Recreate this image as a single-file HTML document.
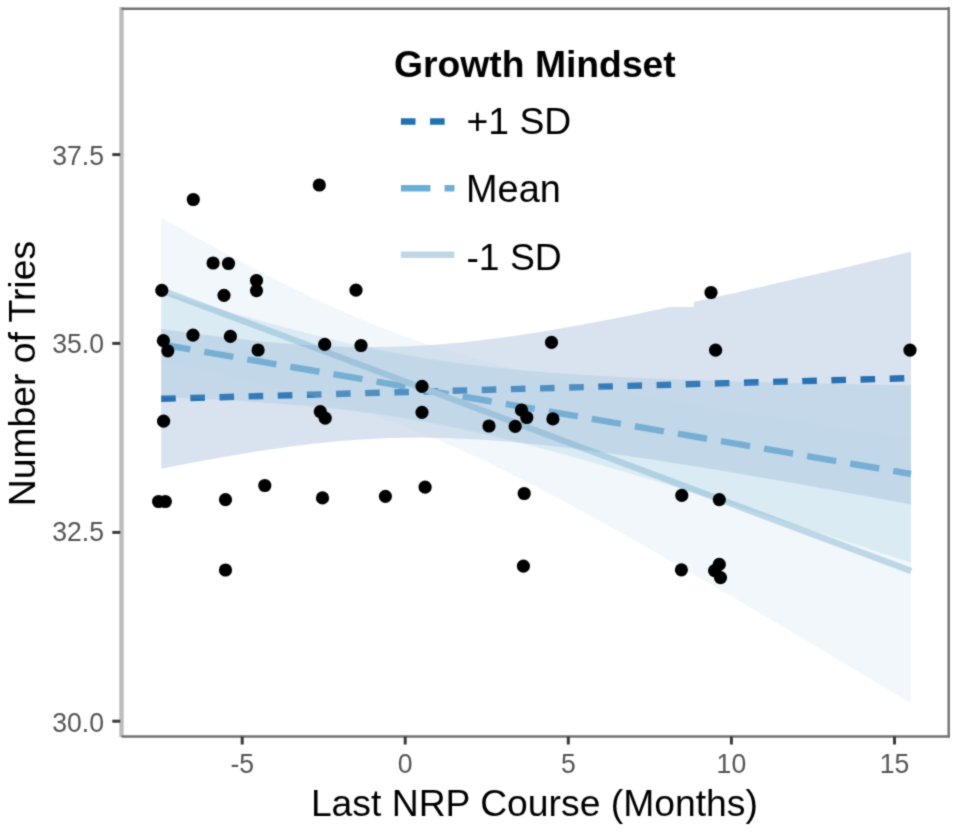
<!DOCTYPE html>
<html><head><meta charset="utf-8"><style>
html,body{margin:0;padding:0;background:#fff;}
svg{display:block;}
#wrap{width:957px;height:833px;}
text{font-family:"Liberation Sans",sans-serif;}
</style></head><body><div id="wrap">
<svg width="957" height="833" viewBox="0 0 957 833">
<defs><filter id="soft" x="0" y="0" width="957" height="833" filterUnits="userSpaceOnUse" color-interpolation-filters="sRGB"><feConvolveMatrix order="3" kernelMatrix="1 4 1 4 16 4 1 4 1" divisor="36" edgeMode="duplicate"/></filter></defs>
<g filter="url(#soft)">
<rect width="957" height="833" fill="#fff"/>
<line x1="161.2" y1="398.8" x2="910.8" y2="378.1" stroke="#2171B5" stroke-width="6.4" stroke-dasharray="14.6 14.55"/>
<line x1="161.2" y1="344.4" x2="911.0" y2="474.0" stroke="#6BAED6" stroke-width="6.4" stroke-dasharray="29.5 14.2"/>
<line x1="161.1" y1="290.2" x2="911.1" y2="570.9" stroke="#BDD7E7" stroke-width="6.4"/>
<path d="M161.20,328.85 L168.77,329.94 L176.35,331.01 L183.92,332.07 L191.49,333.10 L199.07,334.10 L206.64,335.09 L214.22,336.05 L221.79,336.98 L229.36,337.88 L236.94,338.75 L244.51,339.59 L252.08,340.40 L259.66,341.17 L267.23,341.91 L274.81,342.60 L282.38,343.26 L289.95,343.87 L297.53,344.43 L305.10,344.95 L312.67,345.41 L320.25,345.83 L327.82,346.19 L335.40,346.49 L342.97,346.74 L350.54,346.93 L358.12,347.06 L365.69,347.12 L373.26,347.12 L380.84,347.06 L388.41,346.93 L395.99,346.74 L403.56,346.48 L411.13,346.15 L418.71,345.76 L426.28,345.31 L433.85,344.80 L441.43,344.22 L449.00,343.58 L456.58,342.89 L464.15,342.13 L471.72,341.32 L479.30,340.46 L486.87,339.55 L494.44,338.59 L502.02,337.59 L509.59,336.53 L517.17,335.44 L524.74,334.31 L532.31,333.13 L539.89,331.92 L547.46,330.68 L555.03,329.40 L562.61,328.10 L570.18,326.76 L577.76,325.40 L585.33,324.01 L592.90,322.59 L600.48,321.16 L608.05,319.70 L615.62,318.21 L623.20,316.71 L630.77,315.20 L638.35,313.66 L645.92,312.11 L653.49,310.54 L661.07,308.95 L668.64,307.35 L670.00,307.07 L693.70,307.07 L693.71,301.97 L698.94,300.84 L706.51,299.18 L714.08,297.51 L721.66,295.83 L729.23,294.15 L736.80,292.45 L744.38,290.75 L751.95,289.03 L759.53,287.31 L767.10,285.59 L774.67,283.85 L782.25,282.11 L789.82,280.36 L797.39,278.61 L804.97,276.85 L812.54,275.09 L820.12,273.32 L827.69,271.55 L835.26,269.77 L842.84,267.98 L850.41,266.19 L857.98,264.40 L865.56,262.61 L873.13,260.81 L880.71,259.00 L888.28,257.19 L895.85,255.38 L903.43,253.57 L911.00,251.75 L911.00,504.44 L903.43,503.04 L895.85,501.64 L888.28,500.25 L880.71,498.86 L873.13,497.48 L865.56,496.09 L857.98,494.72 L850.41,493.34 L842.84,491.97 L835.26,490.61 L827.69,489.24 L820.12,487.89 L812.54,486.54 L804.97,485.19 L797.39,483.85 L789.82,482.52 L782.25,481.19 L774.67,479.87 L767.10,478.55 L759.53,477.24 L751.95,475.94 L744.38,474.65 L736.80,473.36 L729.23,472.08 L721.66,470.81 L714.08,469.55 L706.51,468.30 L698.94,467.06 L693.71,466.22 L693.70,466.21 L670.00,462.43 L668.64,462.22 L661.07,461.04 L653.49,459.87 L645.92,458.72 L638.35,457.59 L630.77,456.47 L623.20,455.37 L615.62,454.29 L608.05,453.23 L600.48,452.18 L592.90,451.16 L585.33,450.17 L577.76,449.20 L570.18,448.25 L562.61,447.33 L555.03,446.44 L547.46,445.59 L539.89,444.76 L532.31,443.97 L524.74,443.22 L517.17,442.50 L509.59,441.82 L502.02,441.19 L494.44,440.60 L486.87,440.06 L479.30,439.57 L471.72,439.13 L464.15,438.74 L456.58,438.40 L449.00,438.12 L441.43,437.90 L433.85,437.75 L426.28,437.65 L418.71,437.61 L411.13,437.64 L403.56,437.74 L395.99,437.90 L388.41,438.12 L380.84,438.41 L373.26,438.77 L365.69,439.19 L358.12,439.67 L350.54,440.21 L342.97,440.82 L335.40,441.49 L327.82,442.21 L320.25,442.99 L312.67,443.82 L305.10,444.71 L297.53,445.64 L289.95,446.62 L282.38,447.65 L274.81,448.72 L267.23,449.84 L259.66,450.99 L252.08,452.18 L244.51,453.41 L236.94,454.66 L229.36,455.96 L221.79,457.28 L214.22,458.63 L206.64,460.00 L199.07,461.40 L191.49,462.83 L183.92,464.28 L176.35,465.75 L168.77,467.24 L161.20,468.75 Z" fill="#416EAF" fill-opacity="0.2"/>
<path d="M161.20,291.71 L168.77,294.02 L176.35,296.32 L183.92,298.60 L191.49,300.88 L199.07,303.13 L206.64,305.38 L214.22,307.61 L221.79,309.82 L229.36,312.01 L236.94,314.19 L244.51,316.35 L252.08,318.48 L259.66,320.59 L267.23,322.68 L274.81,324.75 L282.38,326.79 L289.95,328.80 L297.53,330.78 L305.10,332.73 L312.67,334.64 L320.25,336.53 L327.82,338.37 L335.40,340.18 L342.97,341.95 L350.54,343.68 L358.12,345.36 L365.69,347.00 L373.26,348.60 L380.84,350.14 L388.41,351.64 L395.99,353.10 L403.56,354.50 L411.13,355.85 L418.71,357.15 L426.28,358.41 L433.85,359.61 L441.43,360.76 L449.00,361.87 L456.58,362.92 L464.15,363.93 L471.72,364.90 L479.30,365.82 L486.87,366.70 L494.44,367.54 L502.02,368.34 L509.59,369.10 L517.17,369.83 L524.74,370.52 L532.31,371.18 L539.89,371.81 L547.46,372.41 L555.03,372.98 L562.61,373.53 L570.18,374.05 L577.76,374.55 L585.33,375.03 L592.90,375.48 L600.48,375.92 L608.05,376.34 L615.62,376.74 L623.20,377.13 L630.77,377.50 L638.35,377.85 L645.92,378.20 L653.49,378.52 L661.07,378.84 L668.64,379.15 L676.21,379.44 L683.79,379.73 L691.36,380.00 L698.94,380.27 L706.51,380.53 L714.08,380.77 L721.66,381.02 L729.23,381.25 L736.80,381.48 L744.38,381.70 L751.95,381.91 L759.53,382.12 L767.10,382.32 L774.67,382.52 L782.25,382.71 L789.82,382.90 L797.39,383.08 L804.97,383.26 L812.54,383.44 L820.12,383.61 L827.69,383.77 L835.26,383.94 L842.84,384.10 L850.41,384.25 L857.98,384.40 L865.56,384.55 L873.13,384.70 L880.71,384.84 L888.28,384.98 L895.85,385.12 L903.43,385.26 L911.00,385.39 L911.00,562.61 L903.43,560.12 L895.85,557.64 L888.28,555.16 L880.71,552.68 L873.13,550.21 L865.56,547.74 L857.98,545.27 L850.41,542.80 L842.84,540.34 L835.26,537.88 L827.69,535.43 L820.12,532.97 L812.54,530.53 L804.97,528.08 L797.39,525.64 L789.82,523.21 L782.25,520.78 L774.67,518.35 L767.10,515.93 L759.53,513.51 L751.95,511.11 L744.38,508.70 L736.80,506.30 L729.23,503.91 L721.66,501.53 L714.08,499.15 L706.51,496.78 L698.94,494.42 L691.36,492.07 L683.79,489.73 L676.21,487.39 L668.64,485.07 L661.07,482.76 L653.49,480.46 L645.92,478.17 L638.35,475.89 L630.77,473.63 L623.20,471.38 L615.62,469.15 L608.05,466.93 L600.48,464.73 L592.90,462.55 L585.33,460.39 L577.76,458.25 L570.18,456.13 L562.61,454.03 L555.03,451.96 L547.46,449.92 L539.89,447.90 L532.31,445.91 L524.74,443.95 L517.17,442.03 L509.59,440.13 L502.02,438.28 L494.44,436.46 L486.87,434.68 L479.30,432.94 L471.72,431.24 L464.15,429.59 L456.58,427.99 L449.00,426.42 L441.43,424.91 L433.85,423.45 L426.28,422.03 L418.71,420.67 L411.13,419.35 L403.56,418.08 L395.99,416.87 L388.41,415.70 L380.84,414.58 L373.26,413.51 L365.69,412.49 L358.12,411.51 L350.54,410.58 L342.97,409.69 L335.40,408.84 L327.82,408.03 L320.25,407.26 L312.67,406.52 L305.10,405.82 L297.53,405.15 L289.95,404.51 L282.38,403.91 L274.81,403.33 L267.23,402.77 L259.66,402.24 L252.08,401.74 L244.51,401.25 L236.94,400.79 L229.36,400.35 L221.79,399.93 L214.22,399.52 L206.64,399.13 L199.07,398.76 L191.49,398.40 L183.92,398.05 L176.35,397.72 L168.77,397.40 L161.20,397.09 Z" fill="#6BAED6" fill-opacity="0.19"/>
<path d="M161.20,217.68 L168.77,221.95 L176.35,226.20 L183.92,230.43 L191.49,234.63 L199.07,238.82 L206.64,242.98 L214.22,247.11 L221.79,251.22 L229.36,255.30 L236.94,259.35 L244.51,263.37 L252.08,267.35 L259.66,271.29 L267.23,275.20 L274.81,279.06 L282.38,282.88 L289.95,286.65 L297.53,290.38 L305.10,294.05 L312.67,297.67 L320.25,301.23 L327.82,304.74 L335.40,308.18 L342.97,311.56 L350.54,314.87 L358.12,318.11 L365.69,321.28 L373.26,324.38 L380.84,327.41 L388.41,330.36 L395.99,333.24 L403.56,336.04 L411.13,338.77 L418.71,341.42 L426.28,344.00 L433.85,346.50 L441.43,348.94 L449.00,351.31 L456.58,353.61 L464.15,355.85 L471.72,358.02 L479.30,360.14 L486.87,362.19 L494.44,364.20 L502.02,366.15 L509.59,368.05 L517.17,369.90 L524.74,371.72 L532.31,373.48 L539.89,375.21 L547.46,376.91 L555.03,378.57 L562.61,380.19 L570.18,381.78 L577.76,383.35 L585.33,384.89 L592.90,386.40 L600.48,387.89 L608.05,389.35 L615.62,390.79 L623.20,392.22 L630.77,393.62 L638.35,395.01 L645.92,396.38 L653.49,397.73 L661.07,399.07 L668.64,400.39 L676.21,401.70 L683.79,403.00 L691.36,404.29 L698.94,405.56 L706.51,406.83 L714.08,408.08 L721.66,409.33 L729.23,410.56 L736.80,411.79 L744.38,413.01 L751.95,414.22 L759.53,415.42 L767.10,416.62 L774.67,417.81 L782.25,418.99 L789.82,420.17 L797.39,421.34 L804.97,422.51 L812.54,423.67 L820.12,424.82 L827.69,425.97 L835.26,427.12 L842.84,428.26 L850.41,429.40 L857.98,430.53 L865.56,431.66 L873.13,432.79 L880.71,433.91 L888.28,435.03 L895.85,436.14 L903.43,437.26 L911.00,438.36 L911.00,703.36 L903.43,698.80 L895.85,694.24 L888.28,689.69 L880.71,685.14 L873.13,680.59 L865.56,676.05 L857.98,671.51 L850.41,666.97 L842.84,662.44 L835.26,657.91 L827.69,653.39 L820.12,648.87 L812.54,644.36 L804.97,639.85 L797.39,635.35 L789.82,630.85 L782.25,626.36 L774.67,621.87 L767.10,617.39 L759.53,612.92 L751.95,608.45 L744.38,604.00 L736.80,599.54 L729.23,595.10 L721.66,590.67 L714.08,586.24 L706.51,581.83 L698.94,577.42 L691.36,573.03 L683.79,568.65 L676.21,564.28 L668.64,559.92 L661.07,555.57 L653.49,551.24 L645.92,546.93 L638.35,542.63 L630.77,538.34 L623.20,534.08 L615.62,529.83 L608.05,525.61 L600.48,521.40 L592.90,517.22 L585.33,513.06 L577.76,508.93 L570.18,504.83 L562.61,500.75 L555.03,496.71 L547.46,492.70 L539.89,488.72 L532.31,484.78 L524.74,480.88 L517.17,477.02 L509.59,473.21 L502.02,469.44 L494.44,465.72 L486.87,462.06 L479.30,458.45 L471.72,454.89 L464.15,451.40 L456.58,447.96 L449.00,444.59 L441.43,441.29 L433.85,438.06 L426.28,434.90 L418.71,431.81 L411.13,428.79 L403.56,425.85 L395.99,422.98 L388.41,420.19 L380.84,417.48 L373.26,414.83 L365.69,412.26 L358.12,409.76 L350.54,407.34 L342.97,404.98 L335.40,402.69 L327.82,400.46 L320.25,398.29 L312.67,396.19 L305.10,394.14 L297.53,392.14 L289.95,390.20 L282.38,388.30 L274.81,386.45 L267.23,384.65 L259.66,382.88 L252.08,381.16 L244.51,379.47 L236.94,377.82 L229.36,376.20 L221.79,374.61 L214.22,373.04 L206.64,371.51 L199.07,370.00 L191.49,368.52 L183.92,367.06 L176.35,365.62 L168.77,364.20 L161.20,362.79 Z" fill="#BDD7E7" fill-opacity="0.21"/>
<circle cx="193.3" cy="199.5" r="6.6" fill="#000"/>
<circle cx="319.3" cy="185.0" r="6.6" fill="#000"/>
<circle cx="213.1" cy="263.0" r="6.6" fill="#000"/>
<circle cx="228.5" cy="263.5" r="6.6" fill="#000"/>
<circle cx="161.8" cy="290.3" r="6.6" fill="#000"/>
<circle cx="224.0" cy="295.3" r="6.6" fill="#000"/>
<circle cx="256.5" cy="280.5" r="6.6" fill="#000"/>
<circle cx="256.5" cy="290.6" r="6.6" fill="#000"/>
<circle cx="356.0" cy="290.2" r="6.6" fill="#000"/>
<circle cx="163.4" cy="340.7" r="6.6" fill="#000"/>
<circle cx="167.8" cy="350.8" r="6.6" fill="#000"/>
<circle cx="193.0" cy="335.2" r="6.6" fill="#000"/>
<circle cx="230.4" cy="336.4" r="6.6" fill="#000"/>
<circle cx="258.1" cy="350.0" r="6.6" fill="#000"/>
<circle cx="324.7" cy="344.4" r="6.6" fill="#000"/>
<circle cx="361.0" cy="345.5" r="6.6" fill="#000"/>
<circle cx="422.0" cy="386.3" r="6.6" fill="#000"/>
<circle cx="422.0" cy="412.3" r="6.6" fill="#000"/>
<circle cx="320.3" cy="411.6" r="6.6" fill="#000"/>
<circle cx="325.2" cy="418.2" r="6.6" fill="#000"/>
<circle cx="163.6" cy="421.2" r="6.6" fill="#000"/>
<circle cx="158.6" cy="501.5" r="6.6" fill="#000"/>
<circle cx="165.3" cy="501.5" r="6.6" fill="#000"/>
<circle cx="225.5" cy="499.7" r="6.6" fill="#000"/>
<circle cx="264.8" cy="485.5" r="6.6" fill="#000"/>
<circle cx="322.5" cy="497.9" r="6.6" fill="#000"/>
<circle cx="385.4" cy="496.3" r="6.6" fill="#000"/>
<circle cx="425.1" cy="487.2" r="6.6" fill="#000"/>
<circle cx="225.5" cy="570.0" r="6.6" fill="#000"/>
<circle cx="489.0" cy="426.0" r="6.6" fill="#000"/>
<circle cx="515.2" cy="426.4" r="6.6" fill="#000"/>
<circle cx="521.5" cy="410.0" r="6.6" fill="#000"/>
<circle cx="526.8" cy="417.5" r="6.6" fill="#000"/>
<circle cx="552.9" cy="418.9" r="6.6" fill="#000"/>
<circle cx="551.5" cy="342.4" r="6.6" fill="#000"/>
<circle cx="524.2" cy="493.5" r="6.6" fill="#000"/>
<circle cx="523.4" cy="566.1" r="6.6" fill="#000"/>
<circle cx="711.0" cy="292.5" r="6.6" fill="#000"/>
<circle cx="715.6" cy="350.2" r="6.6" fill="#000"/>
<circle cx="910.0" cy="350.1" r="6.6" fill="#000"/>
<circle cx="681.8" cy="495.4" r="6.6" fill="#000"/>
<circle cx="719.3" cy="499.6" r="6.6" fill="#000"/>
<circle cx="681.4" cy="569.8" r="6.6" fill="#000"/>
<circle cx="719.3" cy="564.4" r="6.6" fill="#000"/>
<circle cx="714.6" cy="570.6" r="6.6" fill="#000"/>
<circle cx="720.5" cy="577.6" r="6.6" fill="#000"/>
<rect x="119.3" y="7" width="4.4" height="730" fill="#bcbcbc"/>
<line x1="121.5" y1="8.7" x2="948.7" y2="8.7" stroke="#727272" stroke-width="2.4"/>
<line x1="948.7" y1="7" x2="948.7" y2="737.2" stroke="#727272" stroke-width="2.4"/>
<line x1="121.5" y1="736.5" x2="949.9" y2="736.5" stroke="#727272" stroke-width="2.4"/>
<rect x="112.3" y="153.10" width="8" height="3" fill="#3a3a3a"/>
<text transform="translate(104,164.85) scale(1,1.07)" font-size="26.6" fill="#555" text-anchor="end">37.5</text>
<rect x="112.3" y="341.90" width="8" height="3" fill="#3a3a3a"/>
<text transform="translate(104,352.70) scale(1,1.07)" font-size="26.6" fill="#555" text-anchor="end">35.0</text>
<rect x="112.3" y="530.90" width="8" height="3" fill="#3a3a3a"/>
<text transform="translate(104,541.45) scale(1,1.07)" font-size="26.6" fill="#555" text-anchor="end">32.5</text>
<rect x="112.3" y="719.70" width="8" height="3" fill="#3a3a3a"/>
<text transform="translate(104,732.00) scale(1,1.07)" font-size="26.6" fill="#555" text-anchor="end">30.0</text>
<rect x="240.70" y="736.5" width="3" height="8" fill="#3a3a3a"/>
<text transform="translate(242.2,772.5) scale(1,1.07)" font-size="26.6" fill="#555" text-anchor="middle">-5</text>
<rect x="403.70" y="736.5" width="3" height="8" fill="#3a3a3a"/>
<text transform="translate(405.2,772.5) scale(1,1.07)" font-size="26.6" fill="#555" text-anchor="middle">0</text>
<rect x="566.80" y="736.5" width="3" height="8" fill="#3a3a3a"/>
<text transform="translate(568.3,772.5) scale(1,1.07)" font-size="26.6" fill="#555" text-anchor="middle">5</text>
<rect x="729.90" y="736.5" width="3" height="8" fill="#3a3a3a"/>
<text transform="translate(731.4,772.5) scale(1,1.07)" font-size="26.6" fill="#555" text-anchor="middle">10</text>
<rect x="893.00" y="736.5" width="3" height="8" fill="#3a3a3a"/>
<text transform="translate(894.5,772.5) scale(1,1.07)" font-size="26.6" fill="#555" text-anchor="middle">15</text>
<text x="534.4" y="815.5" font-size="37.3" fill="#000" text-anchor="middle">Last NRP Course (Months)</text>
<text transform="translate(35,373.6) rotate(-90)" x="0" y="0" font-size="37.3" fill="#000" text-anchor="middle">Number of Tries</text>
<text x="394" y="77" font-size="37.3" font-weight="bold" fill="#000">Growth Mindset</text>
<line x1="400.9" y1="121.5" x2="454.4" y2="121.5" stroke="#2171B5" stroke-width="6.4" stroke-dasharray="14.6 14.55"/>
<line x1="400.9" y1="188.2" x2="454.4" y2="188.2" stroke="#6BAED6" stroke-width="6.4" stroke-dasharray="29.5 14.2"/>
<line x1="400.9" y1="254.7" x2="454.4" y2="254.7" stroke="#BDD7E7" stroke-width="6.4"/>
<text x="466.5" y="134.2" font-size="37.3" fill="#000">+1 SD</text>
<text x="466" y="202" font-size="37.9" fill="#000">Mean</text>
<text x="466.4" y="270" font-size="37.3" fill="#000">-1 SD</text>
</g></svg></div></body></html>
